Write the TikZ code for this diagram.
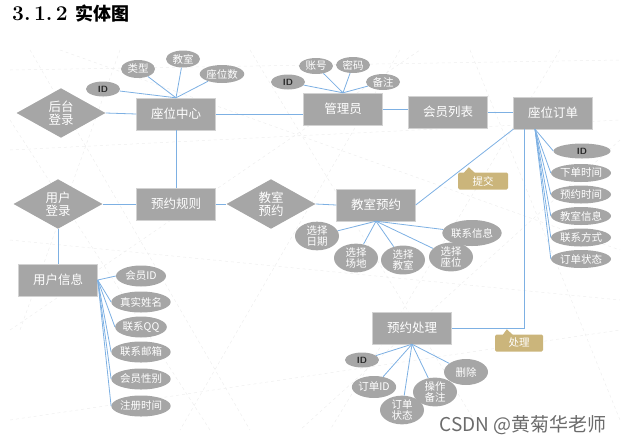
\documentclass[tikz,border=0pt]{standalone}
\usepackage{fontspec}
\newfontfamily\cjk{Noto Sans CJK SC}
\usetikzlibrary{shapes.geometric,calc}
\definecolor{boxgray}{HTML}{A6A6A6}
\definecolor{edgegray}{HTML}{D2D2D2}
\definecolor{lnblue}{HTML}{7DB0E3}
\definecolor{tagtan}{HTML}{CBB57B}
\tikzset{ent/.style={draw=edgegray, fill=boxgray, text=white, font=\cjk\fontsize{12.5}{13}\selectfont,
    minimum width=79pt, minimum height=32pt, inner sep=0pt},
  rel/.style={diamond, fill=boxgray, text=white, font=\cjk\fontsize{12.5}{13}\selectfont, align=center,
    minimum width=89pt, minimum height=49pt, inner sep=0pt},
  attr/.style={ellipse, fill=boxgray, text=white, font=\cjk\fontsize{10.5}{9.5}\selectfont, align=center,
    minimum width=48pt, minimum height=20pt, inner sep=0pt},
  idattr/.style={attr, text=black!85, font=\sffamily\fontsize{9}{9}\selectfont\bfseries, minimum width=34pt, minimum height=15pt},
  lnk/.style={draw=lnblue, line width=0.8pt},
  tag/.style={fill=tagtan, text=white, rounded corners=1.5pt, font=\cjk\fontsize{10.5}{10}\selectfont,
    minimum width=50pt, minimum height=17pt, inner sep=0pt}}

\begin{document}
\begin{tikzpicture}[x=1pt, y=-1pt]
  \useasboundingbox (0,0) rectangle (623,445);
  % faint background texture
  \foreach \a/\b/\c/\d in {10/70/620/60, 10/150/620/120, 30/50/250/430, 120/50/20/330, 250/50/480/430,
      400/50/180/430, 560/50/330/430, 620/140/300/430, 10/240/620/300, 10/420/620/330, 60/50/620/250,
      10/330/420/50, 470/50/620/420, 10/120/210/430}
    \draw[gray!13, dashed, line width=0.5pt] (\a,\b) -- (\c,\d);
  % title
  \node[anchor=west, inner sep=0pt] (title) at (12,14)
    {{\fontsize{21}{21}\selectfont\bfseries 3.\,1.\,2}\hspace{8pt}{\cjk\fontsize{18}{18}\selectfont\bfseries 实体图}};

  % entities
  \node[ent] (seat) at (176,114) {座位中心};
  \node[ent] (admin) at (343,109) {管理员};
  \node[ent] (mlist) at (448,112) {会员列表};
  \node[ent] (order) at (553,113) {座位订单};
  \node[ent] (rule) at (176,204) {预约规则};
  \node[ent] (book) at (376,205) {教室预约};
  \node[ent] (uinfo) at (58,280) {用户信息};
  \node[ent] (proc) at (412,328) {预约处理};

  % relations
  \node[rel] (blogin) at (61,113) {后台\\登录};
  \node[rel] (ulogin) at (58,204) {用户\\登录};
  \node[rel] (rbook) at (271,204) {教室\\预约};

  \draw[lnk] (blogin.east) -- (seat.west);
  \draw[lnk] (seat.east) -- (seat.east -| admin.west);
  \draw[lnk] (admin.east) -- (admin.east -| mlist.west);
  \draw[lnk] (mlist.east) -- (mlist.east -| order.west);
  \draw[lnk] (seat.south) -- (rule.north);
  \draw[lnk] (ulogin.east) -- (rule.west);
  \draw[lnk] (rule.east) -- (rbook.west);
  \draw[lnk] (rbook.east) -- (book.west);
  \draw[lnk] (ulogin.south) -- (uinfo.north);
  \draw[lnk] (book.east) -- (order.south west);
  \draw[lnk] ($(order.south west)+(11,0)$) |- (proc.east);

  % seat centre attributes
  \node[idattr] (s1) at (103,89) {ID};
  \node[attr, minimum width=34pt, minimum height=18pt] (s2) at (138,69) {类型};
  \node[attr, minimum width=34pt, minimum height=17pt] (s3) at (183,59) {教室};
  \node[attr, minimum width=37pt, minimum height=18pt] (s4) at (222,74) {座位数};
  \foreach \i in {1,...,4}
    \draw[lnk] (s\i) -- (seat.north);

  % admin attributes
  \node[idattr] (m1) at (288,82) {ID};
  \node[attr, minimum width=34pt, minimum height=16pt] (m2) at (316,66) {账号};
  \node[attr, minimum width=34pt, minimum height=16pt] (m3) at (353,65) {密码};
  \node[attr, minimum width=34pt, minimum height=16pt] (m4) at (383,82) {备注};
  \foreach \i in {1,...,4}
    \draw[lnk] (m\i) -- (admin.north);

  % order attributes
  \coordinate (ofan) at ($(order.south)+(-18,0)$);
  \node[idattr, minimum width=57pt, minimum height=15pt] (o1) at (582,151) {ID};
  \foreach \t [count=\i from 2] in {下单时间,预约时间,教室信息,联系方式,订单状态}{
    \node[attr, minimum width=60pt, minimum height=18pt] (o\i) at (581,{173+(\i-2)*21.5}) {\t};}
  \foreach \i in {1,...,6}
    \draw[lnk] (ofan) -- (o\i.west);

  % booking attributes
  \node[attr, minimum width=44pt, minimum height=26pt] (b1) at (317,236) {选择\\日期};
  \node[attr, minimum width=44pt, minimum height=26pt] (b2) at (356,258) {选择\\场地};
  \node[attr, minimum width=44pt, minimum height=26pt] (b3) at (403,260) {选择\\教室};
  \node[attr, minimum width=44pt, minimum height=26pt] (b4) at (451,257) {选择\\座位};
  \node[attr, minimum width=44pt, minimum height=26pt] (b5) at (472,233) {联系信息};
  \foreach \i in {1,...,5}
    \draw[lnk] (b\i) -- (book.south);

  % user info attributes
  \foreach \t/\y [count=\i] in {会员ID/276, 真实姓名/302, 联系QQ/327, 联系邮箱/352, 会员性别/379, 注册时间/406}{
    \node[attr, minimum width=50pt, minimum height=21pt] (u\i) at (141,\y) {\t};
    \draw[lnk] (uinfo.east) -- (u\i.west);}

  % processing attributes
  \node[idattr] (p1) at (362,360) {ID};
  \node[attr, minimum width=44pt, minimum height=22pt] (p2) at (374,387) {订单ID};
  \node[attr, minimum width=44pt, minimum height=28pt] (p3) at (402,410) {订单\\状态};
  \node[attr, minimum width=44pt, minimum height=28pt] (p4) at (435,392) {操作\\备注};
  \node[attr, minimum width=44pt, minimum height=26pt] (p5) at (466,372) {删除};
  \foreach \i in {1,...,5}
    \draw[lnk] (p\i) -- (proc.south);

  % labels on the links
  \node[tag] (tsub) at (483,181) {提交};
  \fill[tagtan] ($(tsub.north west)+(6,0.5)$) -- ($(tsub.north west)+(11,-5)$) -- ($(tsub.north west)+(17,0.5)$) -- cycle;
  \node[tag, minimum width=48pt] (tproc) at (519,343) {处理};
  \fill[tagtan] ($(tproc.north west)+(8,0.5)$) -- ($(tproc.north west)+(12,-5)$) -- ($(tproc.north west)+(18,0.5)$) -- cycle;

  % watermark
  \node[anchor=east, text=black!58, font=\cjk\fontsize{19}{19}\selectfont, inner sep=0pt] (mark) at (607,425) {CSDN @黄菊华老师};
\end{tikzpicture}
\end{document}
